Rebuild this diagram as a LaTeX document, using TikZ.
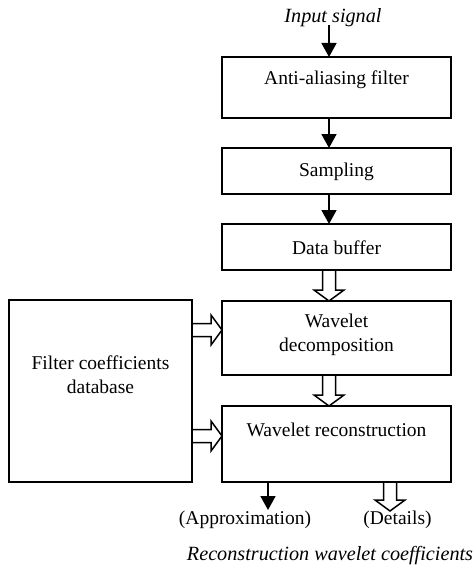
\documentclass[tikz,border=0pt]{standalone}
\usepackage{fontspec}
\setmainfont{Liberation Serif}
\usetikzlibrary{calc,arrows.meta}
\newcommand\harrow[2]{%
  \draw[hollowarr] let \p1=(#1), \p2=(#2),
    \n1={atan2(\y2-\y1,\x2-\x1)}, \n2={veclen(\x2-\x1,\y2-\y1)} in
    [shift={(\p1)}, rotate=\n1]
    (0pt,-6.5pt) -- (\n2-11pt,-6.5pt) -- (\n2-11pt,-15pt) -- (\n2,0pt)
    -- (\n2-11pt,15pt) -- (\n2-11pt,6.5pt) -- (0pt,6.5pt);}
\begin{document}
\begin{tikzpicture}[x=1pt,y=-1pt,
  box/.style={draw,line width=1.6pt,inner sep=0pt,outer sep=0pt},
  txt/.style={font=\fontsize{19.5}{24}\selectfont,inner sep=0pt,align=center},
  itxt/.style={font=\fontsize{20.2}{24}\selectfont\itshape,inner sep=0pt},
  solidarr/.style={line width=1.8pt,-{Triangle[length=14pt,width=15pt]}},
  hollowarr/.style={line width=1.5pt,line join=miter}]
\useasboundingbox (0,0) rectangle (475,567);
% boxes
\node[box,minimum width=229pt,minimum height=61pt] (aa) at (336.5,87.5) {};
\node[box,minimum width=229pt,minimum height=46pt] (samp) at (336.5,171) {};
\node[box,minimum width=229pt,minimum height=46pt] (buf) at (336.5,247) {};
\node[box,minimum width=229pt,minimum height=74pt] (dec) at (336.5,338) {};
\node[box,minimum width=229pt,minimum height=76pt] (rec) at (336.5,444) {};
\node[box,minimum width=183pt,minimum height=182pt] (fdb) at (100.5,391) {};
% texts
\node[txt] (taa) at (336.5,80) {Anti-aliasing filter};
\node[txt] (tsamp) at (336.5,172) {Sampling};
\node[txt] (tbuf) at (336.5,248) {Data buffer};
\node[txt] (tdec) at (336.5,335) {Wavelet\\decomposition};
\node[txt] (trec) at (336.5,430) {Wavelet reconstruction};
\node[txt] (tfdb) at (100.5,374.5) {Filter coefficients\\database};
\node[itxt] (tin) at (333,18) {Input signal};
\node[txt] (tapx) at (245,520) {(Approximation)};
\node[txt] (tdet) at (397.5,520) {(Details)};
\node[itxt] (tcoef) at (330,556) {Reconstruction wavelet coefficients};
% coordinates
\coordinate (in) at (329,25);
\coordinate (h1) at (0,330);
\coordinate (h2) at (0,436);
\coordinate (apx) at (268,510);
\coordinate (det) at (390,511);
% solid arrows
\draw[solidarr] (in) -- (aa.north -| in);
\draw[solidarr] (aa.south -| in) -- (samp.north -| in);
\draw[solidarr] (samp.south -| in) -- (buf.north -| in);
\draw[solidarr] (rec.south -| apx) -- (apx);
% hollow arrows
\harrow{buf.south -| in}{dec.north -| in}
\harrow{dec.south -| in}{rec.north -| in}
\harrow{fdb.east |- h1}{dec.west |- h1}
\harrow{fdb.east |- h2}{rec.west |- h2}
\harrow{rec.south -| det}{det}
\end{tikzpicture}
\end{document}
